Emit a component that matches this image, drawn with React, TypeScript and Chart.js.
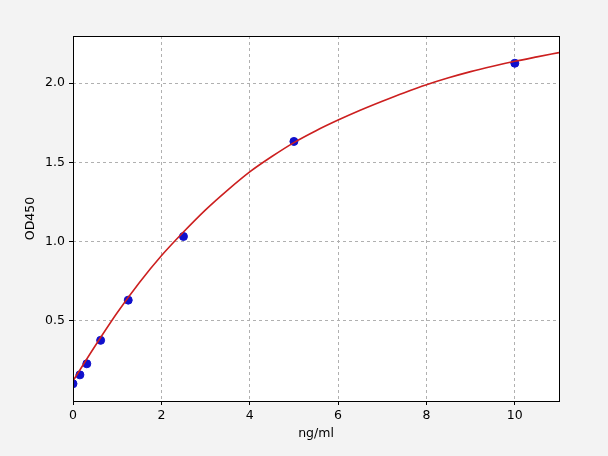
import React, { useEffect, useRef } from "react";
import { Chart, registerables } from "chart.js";

Chart.register(...registerables);

const concX = [0, 0.156, 0.3125, 0.625, 1.25, 2.5, 5, 10];
const odY = [0.102, 0.158, 0.228, 0.376, 0.63, 1.032, 1.632, 2.126];

const curveX = [0, 0.5, 1, 1.5, 2, 2.5, 3, 3.5, 4, 4.5, 5, 5.5, 6, 6.5, 7, 7.5, 8, 8.5, 9, 9.5, 10, 10.5, 11];
const curveY = [0.12, 0.34, 0.55, 0.74, 0.91, 1.06, 1.2, 1.325, 1.44, 1.537, 1.625, 1.7, 1.767, 1.829, 1.886, 1.94, 1.99, 2.034, 2.073, 2.107, 2.138, 2.166, 2.193];

const xTicks = [0, 2, 4, 6, 8, 10];
const yTicks = [0.5, 1.0, 1.5, 2.0];

const FONT = "'DejaVu Sans', sans-serif";

export default function App() {
  const ref = useRef<HTMLCanvasElement | null>(null);
  useEffect(() => {
    document.body.style.margin = "0";
    const frame = {
      id: "frame",
      afterDatasetsDraw(chart: any) {
        const { ctx, chartArea: a } = chart;
        ctx.save();
        ctx.strokeStyle = "#000";
        ctx.lineWidth = 1;
        ctx.setLineDash([]);
        ctx.strokeRect(Math.round(a.left) + 0.5, Math.round(a.top) + 0.5, Math.round(a.right - a.left), Math.round(a.bottom - a.top));
        ctx.restore();
      },
    };
    const bg = {
      id: "bg",
      beforeDraw(chart: any) {
        const { ctx, chartArea: a, width, height } = chart;
        ctx.save();
        ctx.fillStyle = "#f3f3f3";
        ctx.fillRect(0, 0, width, height);
        ctx.fillStyle = "#ffffff";
        ctx.fillRect(a.left, a.top, a.right - a.left, a.bottom - a.top);
        ctx.restore();
      },
    };
    const chart = new Chart(ref.current!, {
      type: "scatter",
      data: {
        datasets: [
          {
            type: "line",
            data: curveX.map((x, i) => ({ x, y: curveY[i] })),
            borderColor: "#cc1f1f",
            borderWidth: 1.6,
            pointRadius: 0,
            cubicInterpolationMode: "monotone",
            fill: false,
            order: 0,
          } as any,
          {
            type: "scatter",
            data: concX.map((x, i) => ({ x, y: odY[i] })),
            backgroundColor: "#1010cc",
            borderColor: "#1010cc",
            pointRadius: 4,
            order: 1,
          },
        ],
      },
      options: {
        animation: false,
        responsive: false,
        layout: { padding: { top: 36, right: 49, left: 20, bottom: 12 } },
        plugins: { legend: { display: false }, tooltip: { enabled: false } },
        scales: {
          x: {
            type: "linear",
            min: 0,
            max: 11,
            afterFit: (s: any) => { s.height = 43; },
            afterBuildTicks: (s: any) => { s.ticks = xTicks.map((v) => ({ value: v })); },
            ticks: { color: "#000", font: { family: FONT, size: 12.5 }, padding: 3, callback: (v: any) => String(v) },
            grid: { color: "#b0b0b0", tickColor: "#000", tickLength: 4, lineWidth: 1 },
            border: { display: false, dash: [3, 3] },
            title: { display: true, text: "ng/ml", color: "#000", font: { family: FONT, size: 12.5 }, padding: { top: 0, bottom: 3 } },
          },
          y: {
            type: "linear",
            min: -0.007,
            max: 2.298,
            afterFit: (s: any) => { s.width = 53; },
            afterBuildTicks: (s: any) => { s.ticks = yTicks.map((v) => ({ value: v })); },
            ticks: { color: "#000", font: { family: FONT, size: 12.5 }, padding: 4, callback: (v: any) => Number(v).toFixed(1) },
            grid: { color: "#b0b0b0", tickColor: "#000", tickLength: 4, lineWidth: 1 },
            border: { display: false, dash: [3, 3] },
            title: { display: true, text: "OD450", color: "#000", font: { family: FONT, size: 12.5 }, padding: { top: 3, bottom: 0 } },
          },
        },
      } as any,
      plugins: [bg, frame],
    });
    return () => chart.destroy();
  }, []);
  return (
    <div style={{ position: "absolute", left: 0, top: 0, width: 608, height: 456, background: "#f3f3f3" }}>
      <canvas ref={ref} width={608} height={456} style={{ width: 608, height: 456 }} />
    </div>
  );
}
